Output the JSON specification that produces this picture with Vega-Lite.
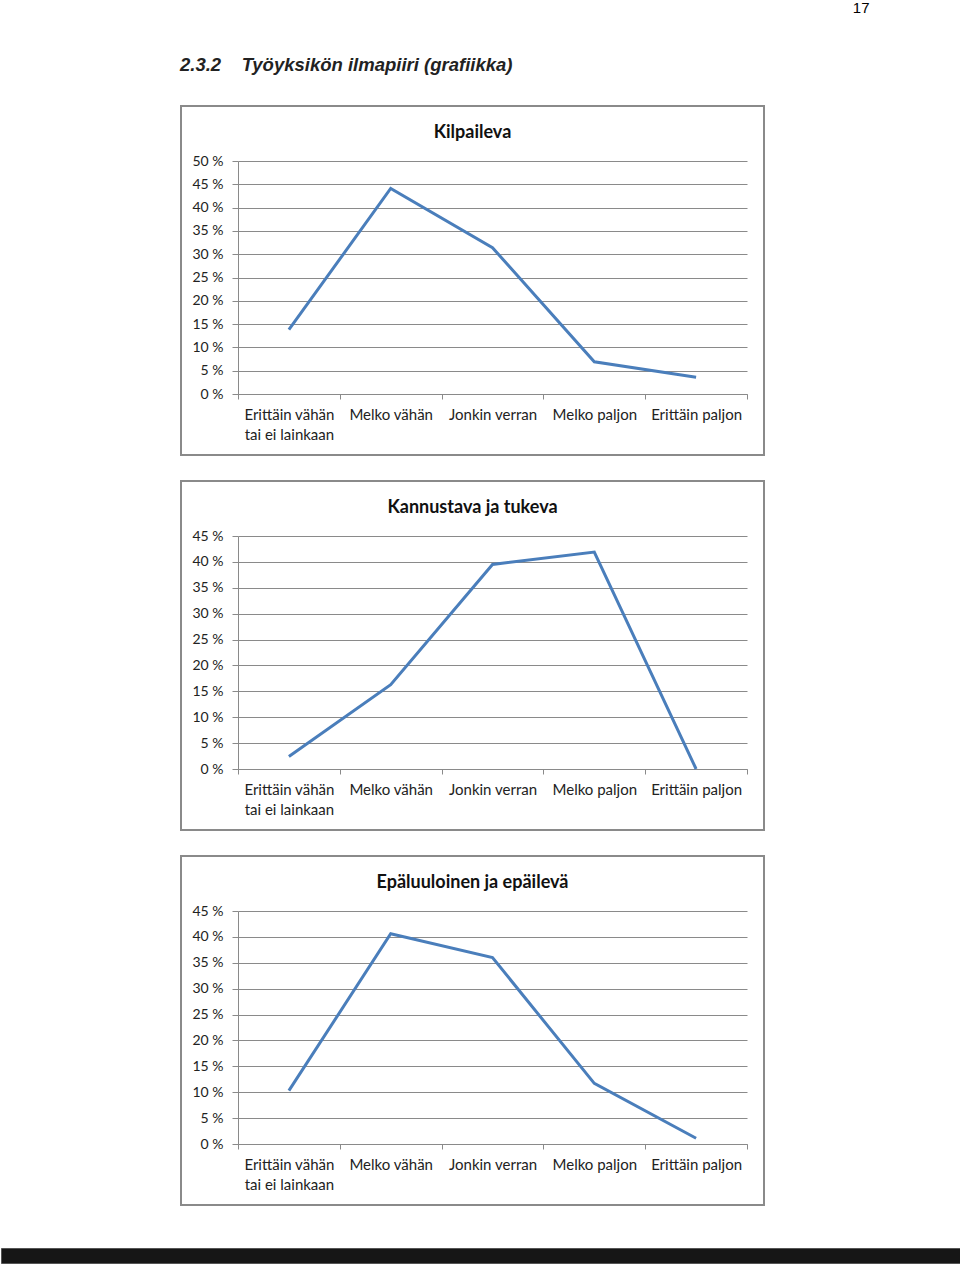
{
  "$schema": "https://vega.github.io/schema/vega-lite/v6.json",
  "padding": 0,
  "background": "white",
  "title": {"text": "17", "anchor": "end", "frame": "bounds", "dx": -92, "offset": 40, "fontSize": 15, "font": "Liberation Sans", "fontWeight": "normal", "color": "#000000"},
  "spacing": 41,
  "config": {
    "font": "Lato",
    "view": {"stroke": null},
    "title": {"font": "Lato", "fontSize": 18, "fontWeight": "bold", "color": "#111111", "anchor": "middle", "frame": "group"},
    "axis": {
      "domainColor": "#8a8a8a", "tickColor": "#8a8a8a", "gridColor": "#8a8a8a",
      "domainWidth": 1, "tickWidth": 1, "gridWidth": 1,
      "labelFont": "Lato", "labelFontSize": 14, "labelColor": "#222222",
      "title": null
    },
    "line": {"color": "#4a7ebb", "strokeWidth": 3}
  },
  "vconcat": [
    {
      "spacing": 0,
      "hconcat": [
        {
          "width": 179, "height": 1,
          "data": {"values": [{"k": 1}]},
          "mark": {"type": "point", "opacity": 0},
          "encoding": {}
        },
        {
          "title": {"text": "2.3.2\u00a0\u00a0\u00a0\u00a0Työyksikön ilmapiiri (grafiikka)", "anchor": "start", "frame": "bounds", "font": "Liberation Sans", "fontSize": 18.5, "fontStyle": "italic", "fontWeight": "bold", "color": "#222222", "offset": 31},
          "spacing": 24,
          "vconcat": [
            {
              "width": 583, "height": 349,
              "title": {"text": "Kilpaileva", "offset": -36},
              "view": {"stroke": "#8a8a8a", "strokeWidth": 2},
              "data": {"values": [
                {"vastaus": "Erittäin vähän tai ei lainkaan", "osuus": 13.8},
                {"vastaus": "Melko vähän", "osuus": 44.1},
                {"vastaus": "Jonkin verran", "osuus": 31.4},
                {"vastaus": "Melko paljon", "osuus": 6.9},
                {"vastaus": "Erittäin paljon", "osuus": 3.6}
              ]},
              "mark": {"type": "line"},
              "encoding": {
                "x": {"field": "vastaus", "type": "nominal", "sort": null, "bandPosition": 0.5,
                  "scale": {"type": "band", "range": [57, 566], "paddingInner": 0, "paddingOuter": 0},
                  "axis": {"orient": "bottom", "offset": -61, "tickBand": "extent", "tickSize": 5, "labelAngle": 0, "labelPadding": 8, "labelLineHeight": 20, "labelFontSize": 15, "grid": false,
                    "labelExpr": "datum.value == 'Erittäin vähän tai ei lainkaan' ? ['Erittäin vähän', 'tai ei lainkaan'] : datum.value"}},
                "y": {"field": "osuus", "type": "quantitative",
                  "scale": {"domain": [0, 50], "range": [288, 55], "nice": false, "zero": true},
                  "axis": {"orient": "left", "offset": -57, "values": [0, 5, 10, 15, 20, 25, 30, 35, 40, 45, 50], "tickSize": 6, "labelPadding": 9, "grid": true, "labelExpr": "datum.value + ' %'"}}
              }
            },
            {
              "width": 583, "height": 349,
              "title": {"text": "Kannustava ja tukeva", "offset": -36},
              "view": {"stroke": "#8a8a8a", "strokeWidth": 2},
              "data": {"values": [
                {"vastaus": "Erittäin vähän tai ei lainkaan", "osuus": 2.4},
                {"vastaus": "Melko vähän", "osuus": 16.3},
                {"vastaus": "Jonkin verran", "osuus": 39.5},
                {"vastaus": "Melko paljon", "osuus": 41.9},
                {"vastaus": "Erittäin paljon", "osuus": 0}
              ]},
              "mark": {"type": "line"},
              "encoding": {
                "x": {"field": "vastaus", "type": "nominal", "sort": null, "bandPosition": 0.5,
                  "scale": {"type": "band", "range": [57, 566], "paddingInner": 0, "paddingOuter": 0},
                  "axis": {"orient": "bottom", "offset": -61, "tickBand": "extent", "tickSize": 5, "labelAngle": 0, "labelPadding": 8, "labelLineHeight": 20, "labelFontSize": 15, "grid": false,
                    "labelExpr": "datum.value == 'Erittäin vähän tai ei lainkaan' ? ['Erittäin vähän', 'tai ei lainkaan'] : datum.value"}},
                "y": {"field": "osuus", "type": "quantitative",
                  "scale": {"domain": [0, 45], "range": [288, 55], "nice": false, "zero": true},
                  "axis": {"orient": "left", "offset": -57, "values": [0, 5, 10, 15, 20, 25, 30, 35, 40, 45], "tickSize": 6, "labelPadding": 9, "grid": true, "labelExpr": "datum.value + ' %'"}}
              }
            },
            {
              "width": 583, "height": 349,
              "title": {"text": "Epäluuloinen  ja epäilevä", "offset": -36},
              "view": {"stroke": "#8a8a8a", "strokeWidth": 2},
              "data": {"values": [
                {"vastaus": "Erittäin vähän tai ei lainkaan", "osuus": 10.3},
                {"vastaus": "Melko vähän", "osuus": 40.6},
                {"vastaus": "Jonkin verran", "osuus": 36.0},
                {"vastaus": "Melko paljon", "osuus": 11.7},
                {"vastaus": "Erittäin paljon", "osuus": 1.1}
              ]},
              "mark": {"type": "line"},
              "encoding": {
                "x": {"field": "vastaus", "type": "nominal", "sort": null, "bandPosition": 0.5,
                  "scale": {"type": "band", "range": [57, 566], "paddingInner": 0, "paddingOuter": 0},
                  "axis": {"orient": "bottom", "offset": -61, "tickBand": "extent", "tickSize": 5, "labelAngle": 0, "labelPadding": 8, "labelLineHeight": 20, "labelFontSize": 15, "grid": false,
                    "labelExpr": "datum.value == 'Erittäin vähän tai ei lainkaan' ? ['Erittäin vähän', 'tai ei lainkaan'] : datum.value"}},
                "y": {"field": "osuus", "type": "quantitative",
                  "scale": {"domain": [0, 45], "range": [288, 55], "nice": false, "zero": true},
                  "axis": {"orient": "left", "offset": -57, "values": [0, 5, 10, 15, 20, 25, 30, 35, 40, 45], "tickSize": 6, "labelPadding": 9, "grid": true, "labelExpr": "datum.value + ' %'"}}
              }
            }
          ]
        }
      ]
    },
    {
      "width": 960, "height": 15,
      "view": {"fill": "#161616", "stroke": "#555555", "strokeWidth": 1},
      "data": {"values": [{"k": 1}]},
      "mark": {"type": "point", "opacity": 0},
      "encoding": {}
    }
  ]
}
